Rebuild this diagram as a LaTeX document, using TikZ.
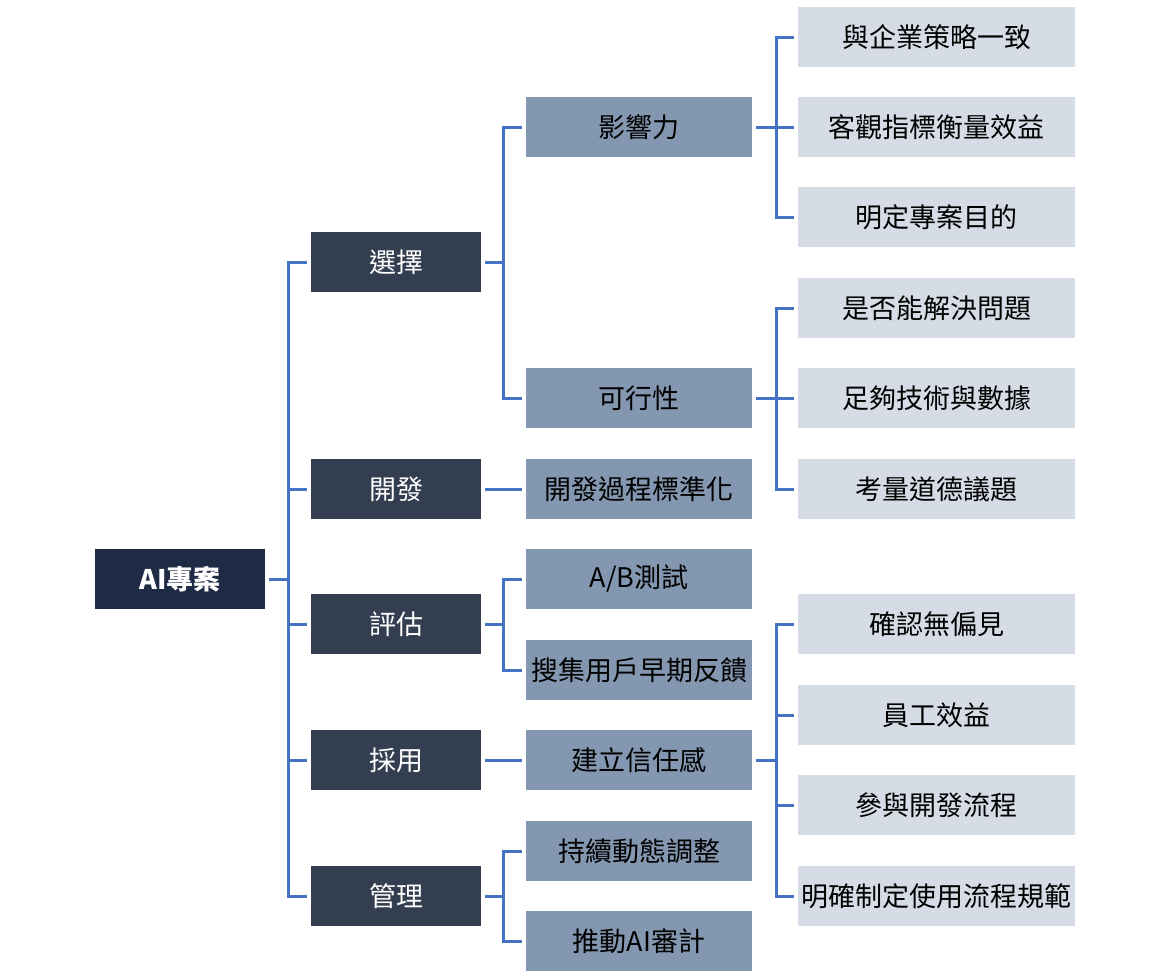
\documentclass[tikz,border=0pt]{standalone}
\usepackage{fontspec}
\setmainfont{Noto Sans CJK TC}
\definecolor{rootc}{RGB}{31,42,68}
\definecolor{lonec}{RGB}{51,63,80}
\definecolor{ltwoc}{RGB}{132,151,176}
\definecolor{lthreec}{RGB}{214,220,229}
\definecolor{linec}{RGB}{68,114,196}
\begin{document}
\begin{tikzpicture}[x=1pt,y=-1pt,
  box/.style={rectangle, inner sep=0pt, align=center, minimum height=60pt, font=\fontsize{27}{30}\selectfont},
  rootbox/.style={box, fill=rootc, text=white, minimum width=170pt, font=\fontsize{27}{30}\selectfont\bfseries},
  onebox/.style={box, fill=lonec, text=white, minimum width=170pt},
  twobox/.style={box, fill=ltwoc, text=black, minimum width=226pt},
  threebox/.style={box, fill=lthreec, text=black, minimum width=277pt},
  conn/.style={draw=linec, line width=3pt, shorten <=4pt, shorten >=4pt}]
\useasboundingbox[fill=white] (0,0) rectangle (1173,980);
% root
\node[rootbox] (root) at (180,579) {AI專案};
% level 1
\node[onebox] (sel) at (396,262) {選擇};
\node[onebox] (dev) at (396,489) {開發};
\node[onebox] (eva) at (396,624) {評估};
\node[onebox] (ado) at (396,760) {採用};
\node[onebox] (man) at (396,896) {管理};
% level 2
\node[twobox] (imp) at (639,127) {影響力};
\node[twobox] (fea) at (639,398) {可行性};
\node[twobox] (std) at (639,489) {開發過程標準化};
\node[twobox] (ab)  at (639,579) {A/B測試};
\node[twobox] (fb)  at (639,670) {搜集用戶早期反饋};
\node[twobox] (tru) at (639,760) {建立信任感};
\node[twobox] (dyn) at (639,851) {持續動態調整};
\node[twobox] (aud) at (639,941) {推動AI審計};
% level 3
\node[threebox] (t1) at (936.5,37)  {與企業策略一致};
\node[threebox] (t2) at (936.5,127) {客觀指標衡量效益};
\node[threebox] (t3) at (936.5,217) {明定專案目的};
\node[threebox] (t4) at (936.5,308) {是否能解決問題};
\node[threebox] (t5) at (936.5,398) {足夠技術與數據};
\node[threebox] (t6) at (936.5,489) {考量道德議題};
\node[threebox] (t7) at (936.5,624) {確認無偏見};
\node[threebox] (t8) at (936.5,715) {員工效益};
\node[threebox] (t9) at (936.5,805) {參與開發流程};
\node[threebox] (t10) at (936.5,896) {明確制定使用流程規範};
% connectors
\foreach \c in {sel,dev,eva,ado,man}
  \draw[conn] (root.east) -- ++(23,0) |- (\c.west);
\foreach \c in {imp,fea}
  \draw[conn] (sel.east) -- ++(22,0) |- (\c.west);
\draw[conn] (dev.east) -- (std.west);
\foreach \c in {ab,fb}
  \draw[conn] (eva.east) -- ++(22,0) |- (\c.west);
\foreach \c in {dyn,aud}
  \draw[conn] (man.east) -- ++(22,0) |- (\c.west);
\draw[conn] (ado.east) -- (tru.west);
\foreach \c in {t1,t2,t3}
  \draw[conn] (imp.east) -- ++(24,0) |- (\c.west);
\foreach \c in {t4,t5,t6}
  \draw[conn] (fea.east) -- ++(24,0) |- (\c.west);
\foreach \c in {t7,t8,t9,t10}
  \draw[conn] (tru.east) -- ++(24,0) |- (\c.west);
\end{tikzpicture}
\end{document}
